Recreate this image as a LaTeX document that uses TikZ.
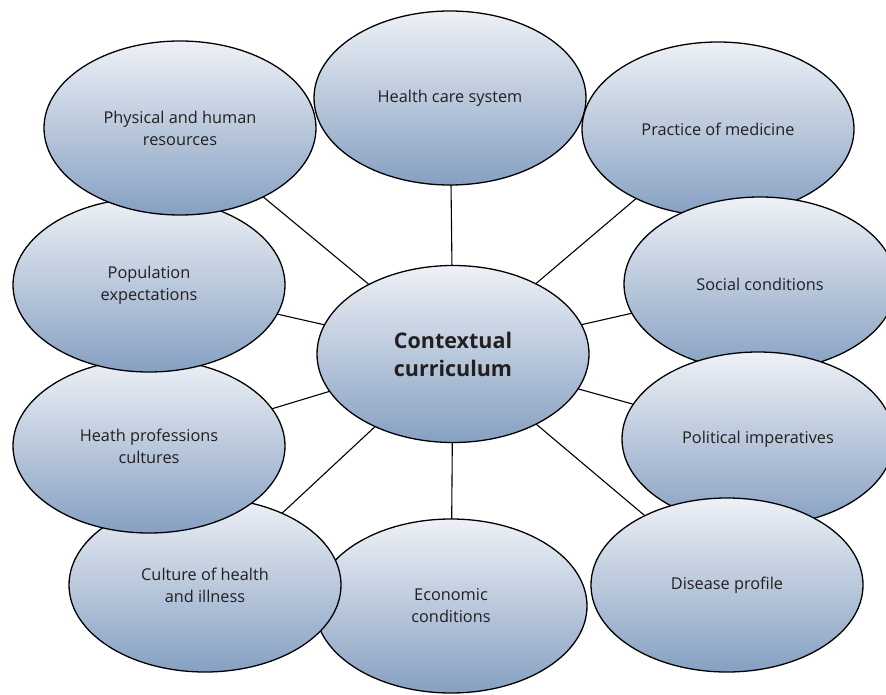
\documentclass[tikz,border=0pt]{standalone}
\usepackage{fontspec}
\setmainfont{Open Sans}
\usetikzlibrary{shapes.geometric,backgrounds}
\definecolor{topc}{HTML}{EEF1F6}
\definecolor{botc}{HTML}{86A0C2}
\definecolor{txt}{HTML}{231F20}
\tikzset{
  bubble/.style={ellipse, draw=black, line width=1.3pt, top color=topc, bottom color=botc,
    minimum width=272pt, minimum height=174pt, inner sep=0pt, align=center,
    font=\fontsize{16.3}{22}\selectfont, text=txt},
  hub/.style={bubble, minimum height=177pt, font=\fontsize{21.5}{28}\selectfont\bfseries},
  link/.style={draw=black, line width=1.1pt}
}
\begin{document}
\begin{tikzpicture}[x=1pt,y=-1pt]
\useasboundingbox (0,0) rectangle (886,695);
\clip (0,0) rectangle (886,695);
\node[bubble] (econ) at (451,606) {Economic\\conditions};
\node[bubble] (cult) at (205,585) {Culture of health\\and illness};
\node[bubble] (heath) at (149,446) {Heath professions\\cultures};
\node[bubble] (pop) at (149,285) {Population\\expectations};
\node[bubble] (phys) at (180,128) {Physical and human\\resources};
\node[bubble] (hcs) at (450,98) {Health care system};
\node[bubble] (prac) at (718,129) {Practice of medicine};
\node[bubble] (soc) at (760,284) {Social conditions};
\node[bubble] (pol) at (758,439) {Political imperatives};
\node[bubble] (dis) at (727,585) {Disease profile};
\node[hub] (ctx) at (453,354) {Contextual\\curriculum};
\begin{pgfonlayer}{background}
\foreach \n in {econ,cult,heath,pop,phys,hcs,prac,soc,pol,dis}
  \draw[link] (ctx.center) -- (\n.center);
\end{pgfonlayer}
\end{tikzpicture}
\end{document}
